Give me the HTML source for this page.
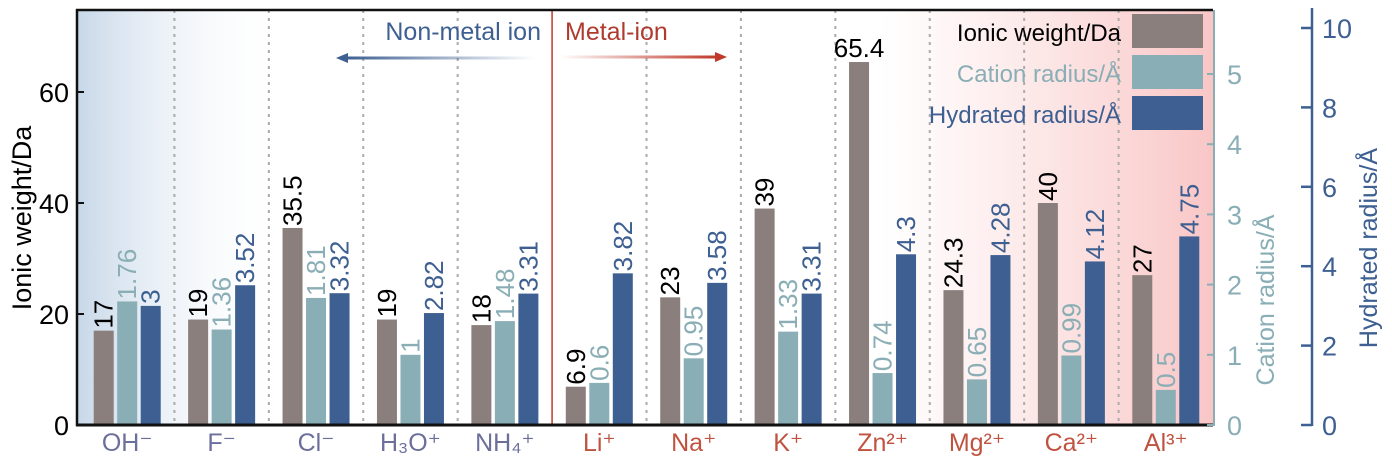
<!DOCTYPE html>
<html><head><meta charset="utf-8"><style>
html,body{margin:0;padding:0;background:#fff;}
svg{display:block;font-family:"Liberation Sans",sans-serif;}
</style></head><body>
<svg id="chart" width="1392" height="467" viewBox="0 0 1392 467">
<defs>
<linearGradient id="gl" x1="0" x2="1" y1="0" y2="0">
<stop offset="0" stop-color="#c7d7e8"/><stop offset="1" stop-color="#ffffff" stop-opacity="0"/></linearGradient>
<linearGradient id="gr" x1="0" x2="1" y1="0" y2="0">
<stop offset="0" stop-color="#fbd3d3" stop-opacity="0"/><stop offset="1" stop-color="#f9c6c6"/></linearGradient>
<linearGradient id="ab" x1="0" x2="1" y1="0" y2="0"><stop offset="0" stop-color="#3d5f91"/><stop offset="1" stop-color="#3d5f91" stop-opacity="0"/></linearGradient>
<linearGradient id="ar" x1="0" x2="1" y1="0" y2="0"><stop offset="0" stop-color="#c0392b" stop-opacity="0"/><stop offset="1" stop-color="#c0392b"/></linearGradient>
</defs>
<rect x="76" y="9" width="210" height="416" fill="url(#gl)"/>
<rect x="880" y="9" width="333" height="416" fill="url(#gr)"/>
<g id="grid"></g>
<g id="bars"></g>
<g id="labels"></g>
<g id="axes"></g>
<text x="541" y="40" text-anchor="end" font-size="25" fill="#3d5f91">Non-metal ion</text>
<rect x="345" y="56.5" width="190" height="3" fill="url(#ab)"/>
<polygon points="336,58 348,53 348,63" fill="#3d5f91"/>
<text x="565" y="40" font-size="25" fill="#b03a2e">Metal-ion</text>
<rect x="560" y="55.5" width="157" height="3" fill="url(#ar)"/>
<polygon points="727,57 715,52 715,62" fill="#c0392b"/>
<g>
<text x="1121" y="41" text-anchor="end" font-size="24" fill="#000">Ionic weight/Da</text>
<rect x="1132" y="14" width="71" height="34" fill="#8a7f7d"/>
<text x="1121" y="82" text-anchor="end" font-size="24" fill="#8aaeb5">Cation radius/Å</text>
<rect x="1132" y="55" width="71" height="34" fill="#8aaeb5"/>
<text x="1121" y="123" text-anchor="end" font-size="24" fill="#3d5f91">Hydrated radius/Å</text>
<rect x="1132" y="96" width="71" height="34" fill="#3d5f91"/>
</g>
</svg>
<script>
const categories=["OH⁻","F⁻","Cl⁻","H₃O⁺","NH₄⁺","Li⁺","Na⁺","K⁺","Zn²⁺","Mg²⁺","Ca²⁺","Al³⁺"];
const ionicWeight=[17,19,35.5,19,18,6.9,23,39,65.4,24.3,40,27];
const cationRadius=[1.76,1.36,1.81,1,1.48,0.6,0.95,1.33,0.74,0.65,0.99,0.5];
const hydratedRadius=[3,3.52,3.32,2.82,3.31,3.82,3.58,3.31,4.3,4.28,4.12,4.75];
const leftTicks=[0,20,40,60];
const cationTicks=[0,1,2,3,4,5];
const hydTicks=[0,2,4,6,8,10];
const NS="http://www.w3.org/2000/svg";
const X0=80,X1=1213,Y0=425;
const gw=(X1-X0)/categories.length;
const yW=v=>Y0-v*5.55;
const yC=v=>Y0-v*70.2;
const yH=v=>Y0-v*39.7;
const xc=i=>X0+gw*(i+0.5);
function mk(tag,attrs,parent){const e=document.createElementNS(NS,tag);for(const k in attrs)e.setAttribute(k,attrs[k]);parent.appendChild(e);return e;}
const grid=document.getElementById('grid'),bars=document.getElementById('bars'),labels=document.getElementById('labels'),axes=document.getElementById('axes');
for(let i=1;i<categories.length;i++){
  const x=X0+gw*i;
  const l=mk('line',{x1:x,y1:10,x2:x,y2:Y0,stroke:i===5?'#c0392b':'#aaa','stroke-width':i===5?1.5:2,'stroke-dasharray':i===5?'':'3,5'},grid);
  
  
}
const series=[
 {vals:ionicWeight,sc:yW,fill:'#8a7f7d',tc:'#000',name:'ionic-weight'},
 {vals:cationRadius,sc:yC,fill:'#8aaeb5',tc:'#8aaeb5',name:'cation-radius'},
 {vals:hydratedRadius,sc:yH,fill:'#3d5f91',tc:'#3d5f91',name:'hydrated-radius'}];
const bw=20,step=23.5;
categories.forEach((c,i)=>{
  series.forEach((s,j)=>{
    const x=xc(i)+(j-1)*step-bw/2;
    const y=s.sc(s.vals[i]);
    const r=mk('rect',{x:x,y:y,width:bw,height:Y0-y,fill:s.fill},bars);
    
    
    let t;
    if(j===0&&s.vals[i]>60){
      t=mk('text',{x:x+bw/2,y:y-5,'text-anchor':'middle','font-size':26,fill:s.tc},labels);
    }else{
      const cx=x+bw/2+9,cy=y-2;
      t=mk('text',{x:cx,y:cy,transform:`rotate(-90 ${cx} ${cy})`,'font-size':26,fill:s.tc},labels);
    }
    t.textContent=String(s.vals[i]);
    
    
  });
  const lt=mk('text',{x:xc(i),y:451,'text-anchor':'middle','font-size':25,fill:i<5?'#6b6f9a':'#c0533f'},labels);
  lt.textContent=c;
  
  
});
let e=mk('line',{x1:76,y1:10,x2:X1,y2:10,stroke:'#111','stroke-width':2.5},axes);


e=mk('line',{x1:76,y1:Y0,x2:X1,y2:Y0,stroke:'#111','stroke-width':3},axes);


e=mk('line',{x1:77,y1:9,x2:77,y2:Y0+1,stroke:'#111','stroke-width':2.5},axes);


leftTicks.forEach(v=>{
  const tk=mk('line',{x1:77,y1:yW(v),x2:84,y2:yW(v),stroke:'#111','stroke-width':2},axes);
  
  
  const t=mk('text',{x:69,y:yW(v)+10,'text-anchor':'end','font-size':27,fill:'#000'},axes);
  t.textContent=v;
  
  
});
e=mk('text',{x:31,y:218,transform:'rotate(-90 31 218)','text-anchor':'middle','font-size':27,fill:'#000'},axes);
e.textContent='Ionic weight/Da';


e=mk('line',{x1:1214,y1:10,x2:1214,y2:Y0+1,stroke:'#8aaeb5','stroke-width':2},axes);


cationTicks.forEach(v=>{
  const tk=mk('line',{x1:1207,y1:yC(v),x2:1214,y2:yC(v),stroke:'#8aaeb5','stroke-width':2},axes);
  
  
  const t=mk('text',{x:1227,y:yC(v)+10,'font-size':27,fill:'#8aaeb5'},axes);
  t.textContent=v;
  
  
});
e=mk('text',{x:1274,y:300,transform:'rotate(-90 1274 300)','text-anchor':'middle','font-size':25,fill:'#8aaeb5'},axes);
e.textContent='Cation radius/Å';


e=mk('line',{x1:1312,y1:8,x2:1312,y2:Y0+1,stroke:'#3d5f91','stroke-width':2.5},axes);


hydTicks.forEach(v=>{
  const tk=mk('line',{x1:1301,y1:yH(v),x2:1312,y2:yH(v),stroke:'#3d5f91','stroke-width':2.5},axes);
  
  
  const t=mk('text',{x:1322,y:yH(v)+10,'font-size':27,fill:'#3d5f91'},axes);
  t.textContent=v;
  
  
});
e=mk('text',{x:1377,y:248,transform:'rotate(-90 1377 248)','text-anchor':'middle','font-size':25,fill:'#3d5f91'},axes);
e.textContent='Hydrated radius/Å';


</script>
</body></html>
